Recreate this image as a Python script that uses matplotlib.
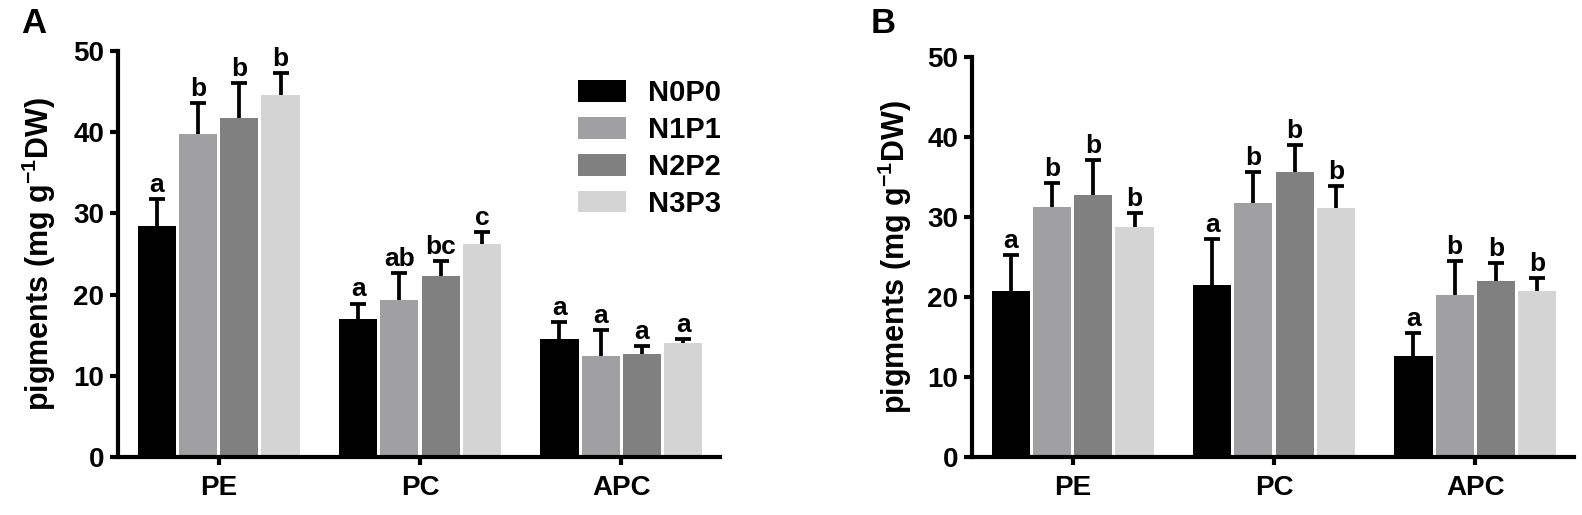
import matplotlib
matplotlib.use("Agg")
import matplotlib.pyplot as plt
import matplotlib.patches as mpatches
from matplotlib.legend_handler import HandlerPatch
import numpy as np

plt.rcParams['font.family'] = ['Liberation Sans', 'DejaVu Sans']
plt.rcParams['font.weight'] = 'bold'
plt.rcParams['mathtext.fontset'] = 'custom'
plt.rcParams['mathtext.rm'] = 'Liberation Sans:bold'
plt.rcParams['mathtext.bf'] = 'Liberation Sans:bold'
plt.rcParams['mathtext.default'] = 'bf'

groups = ["PE", "PC", "APC"]
treatments = ["N0P0", "N1P1", "N2P2", "N3P3"]
colors = ["#000000", "#a0a0a2", "#808080", "#d4d4d4"]

# panel A: mean and upper error bar (per treatment, per group PE/PC/APC)
a_mean = {
    "N0P0": [28.5, 17.0, 14.5],
    "N1P1": [39.8, 19.3, 12.5],
    "N2P2": [41.7, 22.3, 12.7],
    "N3P3": [44.6, 26.2, 14.1],
}
a_err = {
    "N0P0": [3.3, 1.9, 2.1],
    "N1P1": [3.8, 3.3, 3.1],
    "N2P2": [4.4, 1.8, 1.0],
    "N3P3": [2.7, 1.5, 0.4],
}
a_sig = {
    "N0P0": ["a", "a", "a"],
    "N1P1": ["b", "ab", "a"],
    "N2P2": ["b", "bc", "a"],
    "N3P3": ["b", "c", "a"],
}

# panel B
b_mean = {
    "N0P0": [20.8, 21.5, 12.6],
    "N1P1": [31.2, 31.7, 20.2],
    "N2P2": [32.7, 35.6, 22.0],
    "N3P3": [28.7, 31.1, 20.8],
}
b_err = {
    "N0P0": [4.5, 5.7, 2.9],
    "N1P1": [3.0, 3.9, 4.3],
    "N2P2": [4.4, 3.4, 2.2],
    "N3P3": [1.8, 2.8, 1.6],
}
b_sig = {
    "N0P0": ["a", "a", "a"],
    "N1P1": ["b", "b", "b"],
    "N2P2": ["b", "b", "b"],
    "N3P3": ["b", "b", "b"],
}


class RoundHandler(HandlerPatch):
    def create_artists(self, legend, orig_handle, xdescent, ydescent,
                       width, height, fontsize, trans):
        p = mpatches.FancyBboxPatch((-xdescent, -ydescent), width, height,
                                    boxstyle="round,pad=0,rounding_size=3",
                                    facecolor=orig_handle.get_facecolor(),
                                    edgecolor="none", transform=trans)
        return [p]


def draw_panel(ax, means, errs, sigs, label_x):
    x = np.arange(len(groups))
    pitch = 0.205
    width = 0.19
    for i, t in enumerate(treatments):
        pos = x + (i - 1.5) * pitch
        ax.bar(pos, means[t], width, color=colors[i], label=t, zorder=2)
        # symmetric bars drawn behind the columns, so only the upper half shows
        ax.errorbar(pos, means[t], yerr=errs[t], fmt="none",
                    ecolor="black", elinewidth=2.7, capsize=6, capthick=2.7, zorder=1)
        for xp, m, e, s in zip(pos, means[t], errs[t], sigs[t]):
            ax.annotate(s, (xp, m + e), xytext=(0, 1.5), textcoords="offset points",
                        ha="center", va="bottom", fontsize=19, fontweight="bold")
    ax.set_xlim(-0.5, 2.49)
    ax.set_ylim(0, 50)
    ax.set_yticks([0, 10, 20, 30, 40, 50])
    ax.set_xticks(x)
    ax.set_xticklabels(groups)
    ax.spines["top"].set_visible(False)
    ax.spines["right"].set_visible(False)
    ax.spines["left"].set_linewidth(3)
    ax.spines["bottom"].set_linewidth(3)
    ax.tick_params(axis="both", width=3, length=6, labelsize=20)
    ax.tick_params(axis="x", pad=7)
    ax.tick_params(axis="y", pad=4)
    ax.set_ylabel(r"pigments (mg g$^{-1}$DW)", fontsize=22, fontweight="bold")
    ax.yaxis.set_label_coords(label_x, 0.5)


fig = plt.figure(figsize=(15.82, 5.15), dpi=100)
axA = fig.add_axes([118 / 1582, 58 / 515, 602 / 1582, 406 / 515])
axB = fig.add_axes([972 / 1582, 58 / 515, 602 / 1582, 400 / 515])

draw_panel(axA, a_mean, a_err, a_sig, -0.1)
draw_panel(axB, b_mean, b_err, b_sig, -0.097)

axA.legend(loc="upper left", bbox_to_anchor=(0.764, 0.93), frameon=False,
           fontsize=21, handlelength=1.65, handleheight=0.76, labelspacing=0.3,
           handletextpad=0.75, borderpad=0, borderaxespad=0,
           handler_map={mpatches.Rectangle: RoundHandler()})

fig.text(21 / 1582, 1 - 33 / 515, "A", fontsize=25, fontweight="bold")
fig.text(871 / 1582, 1 - 33 / 515, "B", fontsize=25, fontweight="bold")

fig.savefig("out.png", dpi=100)
